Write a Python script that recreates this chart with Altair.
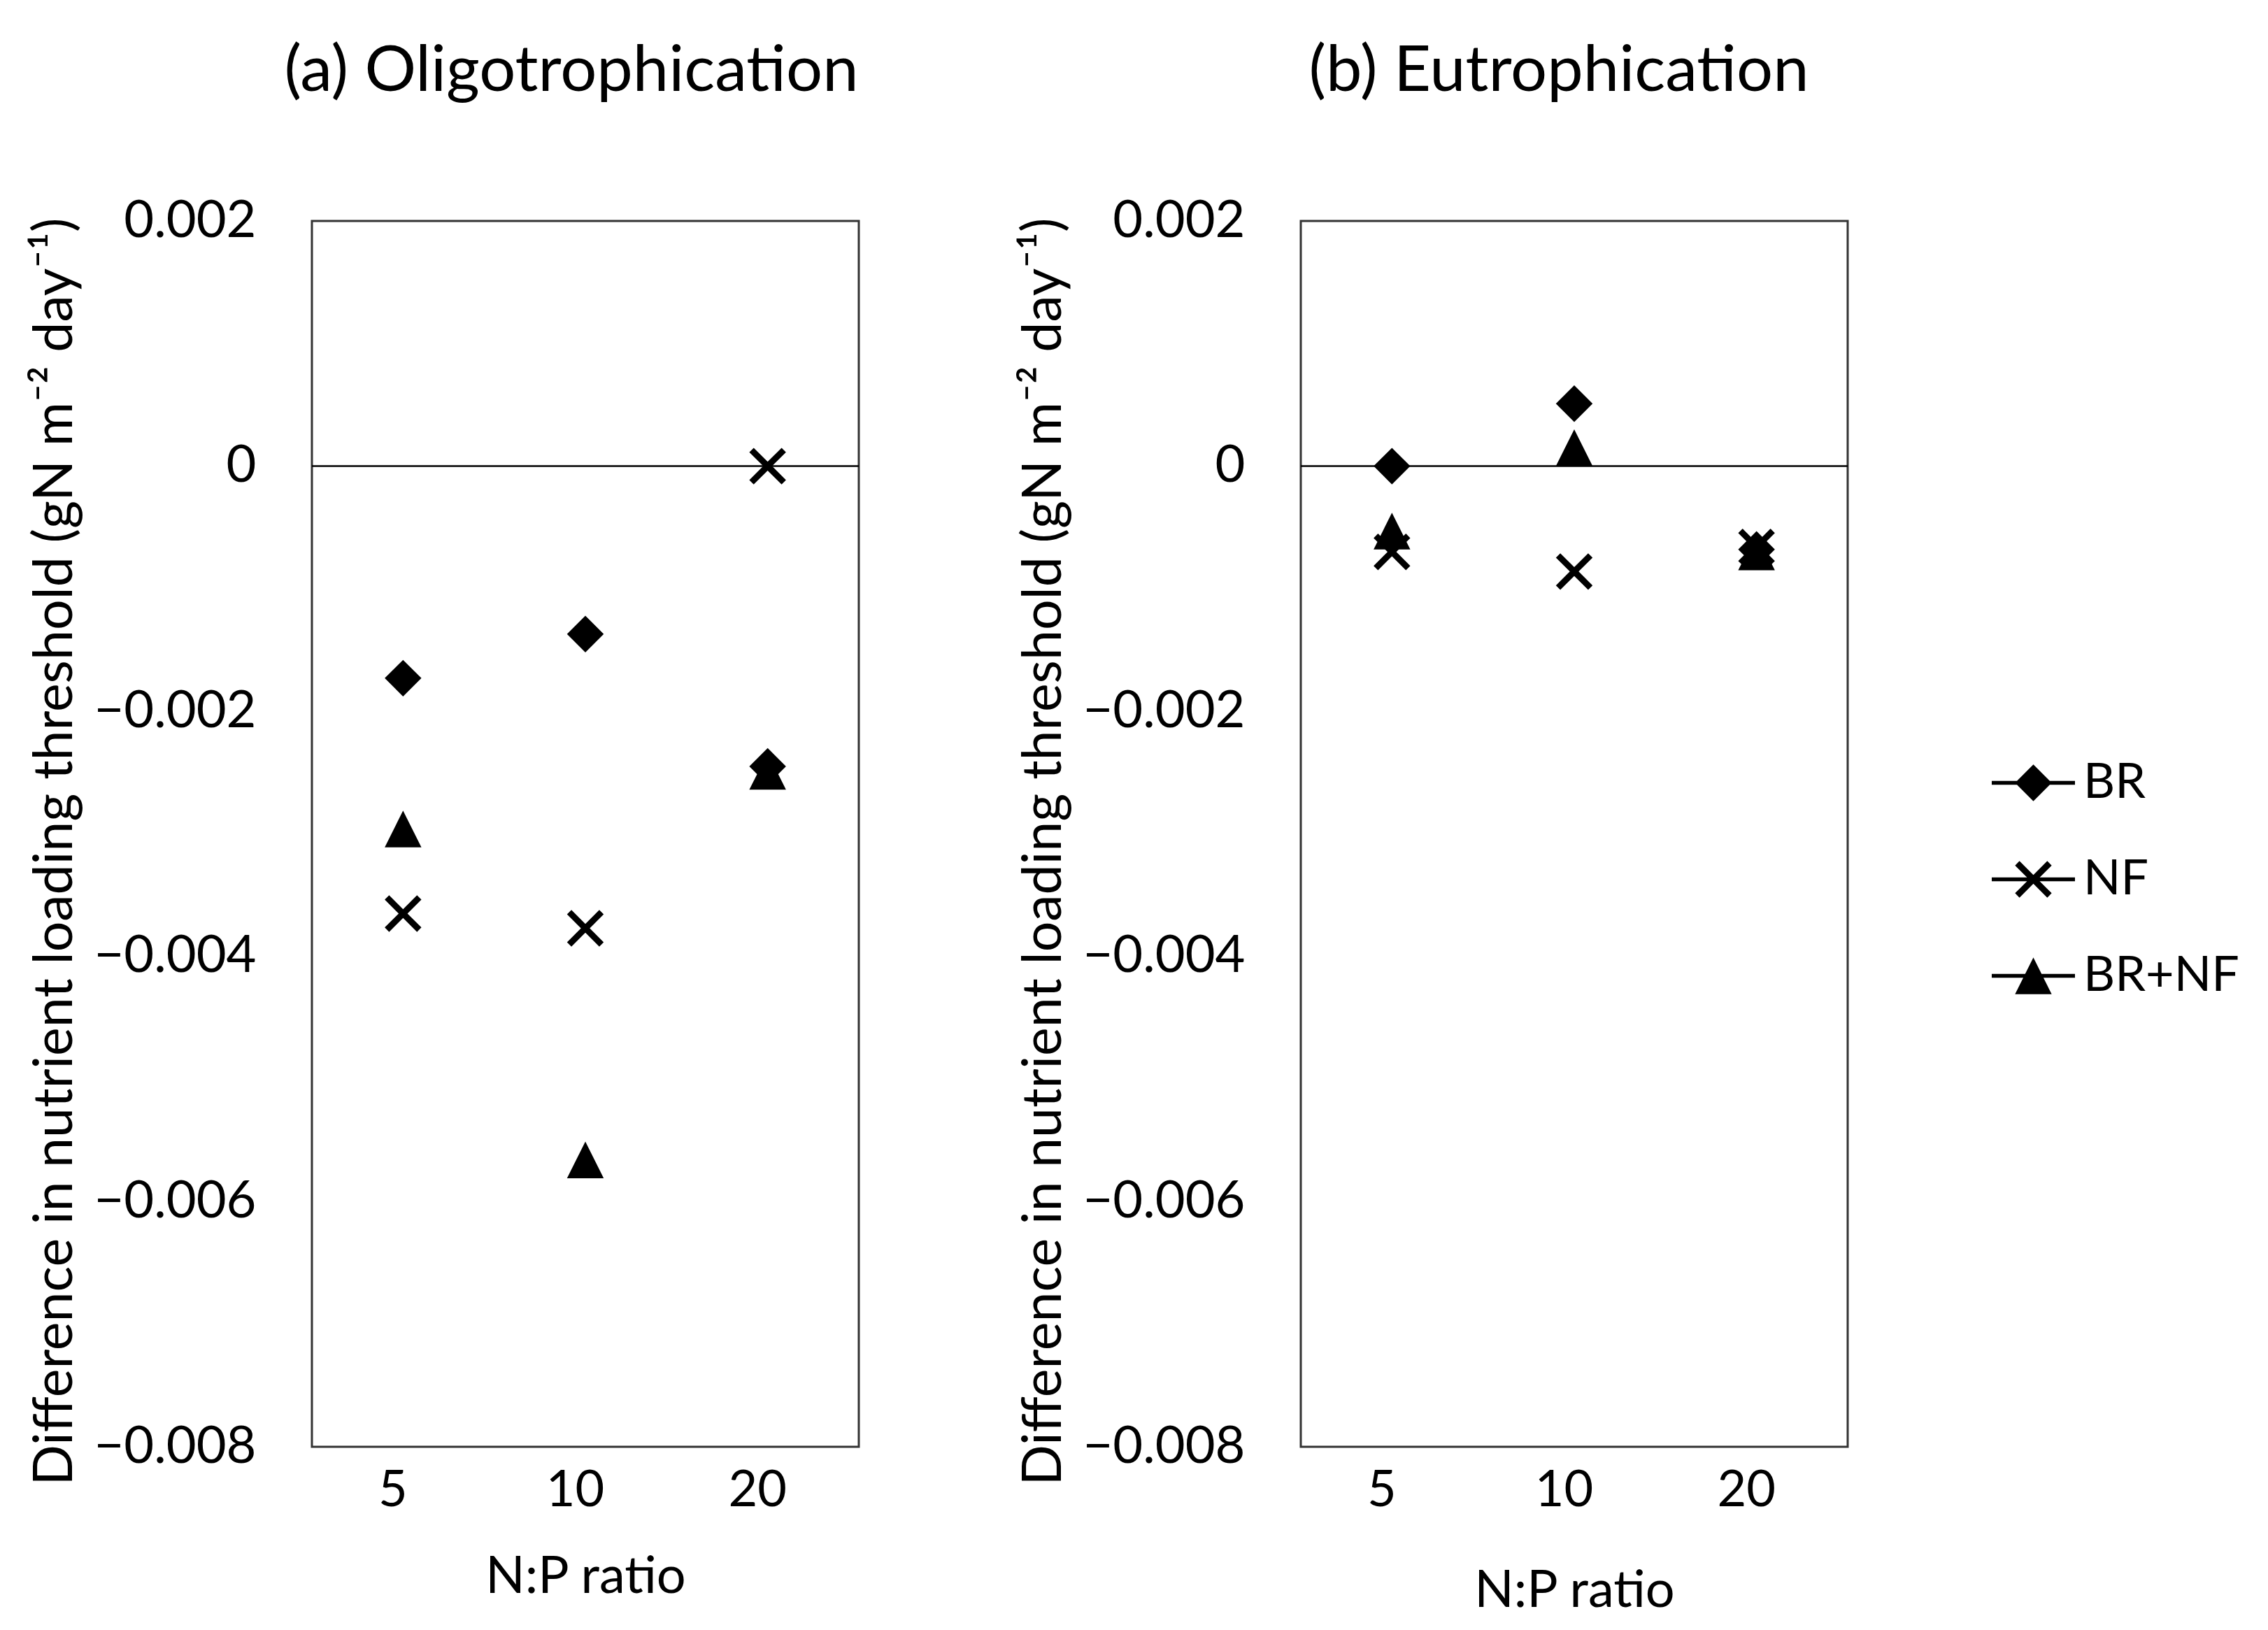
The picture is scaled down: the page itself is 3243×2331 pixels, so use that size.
import altair as alt
import pandas as pd

ratios = ["5", "10", "20"]
series = ["BR", "NF", "BR+NF"]

a_BR = [-0.00173, -0.00137, -0.00245]
a_NF = [-0.00365, -0.00377, 0.0]
a_BRNF = [-0.00296, -0.00566, -0.00249]

b_BR = [0.0, 0.00051, -0.00068]
b_NF = [-0.00070, -0.00086, -0.00066]
b_BRNF = [-0.00053, 0.00015, -0.00070]

y_ticks = [-0.008, -0.006, -0.004, -0.002, 0.0, 0.002]

FONT = "Lato"
W, H = 782, 1753

# marker shapes (unit box -1..1)
DIAMOND = "M0,-1L1,0L0,1L-1,0Z"
E = 0.24
XPTS = [(-1 + E, -1), (0, -E), (1 - E, -1), (1, -1 + E), (E, 0), (1, 1 - E),
        (1 - E, 1), (0, E), (-1 + E, 1), (-1, 1 - E), (-E, 0), (-1, -1 + E)]


def poly(pts, k=1.0):
    return "M" + "L".join(f"{x * k:.3f},{y * k:.3f}" for x, y in pts) + "Z"


XSHAPE = poly(XPTS)
TRI = "M0,-1L1,1L-1,1Z"

K = 0.44
LINE = "M-1,-0.045L1,-0.045L1,0.045L-1,0.045Z"
L_DIAMOND = LINE + poly([(0, -1), (1, 0), (0, 1), (-1, 0)], K)
L_X = LINE + poly(XPTS, K)
L_TRI = LINE + poly([(0, -1), (1, 1), (-1, 1)], K)


def make_df(br, nf, brnf):
    rows = []
    for i, (s, vals) in enumerate(zip(series, [br, nf, brnf])):
        for r, v in zip(ratios, vals):
            rows.append({"ratio": r, "value": v, "series": s, "legend_series": s, "series_order": i})
    return pd.DataFrame(rows)


label_expr = "datum.value == 0 ? '0' : replace(format(datum.value, '.3f'), '-', '\u2212')"


def panel(df, title, title_dx, xtitle_pad, show_legend):
    x = alt.X("ratio:N", sort=ratios,
              axis=alt.Axis(title="N:P ratio", labelAngle=0, labelFontSize=72, labelFont=FONT,
                            labelColor="black", labelPadding=27, labelOffset=-15, ticks=False,
                            domain=False, grid=False, titleFontSize=74, titleFont=FONT,
                            titleFontWeight="normal", titleColor="black",
                            titlePadding=xtitle_pad, labelLimit=500))
    y = alt.Y("value:Q", scale=alt.Scale(domain=[-0.008, 0.002], nice=False, zero=False),
              axis=alt.Axis(values=y_ticks, labelExpr=label_expr, labelFontSize=74,
                            labelFont=FONT, labelColor="black", labelPadding=80, ticks=False,
                            domain=False, grid=False, labelLimit=600,
                            title="Difference in nutrient loading threshold (gN m\u207b\u00b2 day\u207b\u00b9)",
                            titleFontSize=77, titleFont=FONT, titleFontWeight="normal",
                            titleColor="black", titleX=-328, titleY=H / 2 + 25,
                            titleLimit=3000))
    base = alt.Chart(df)
    zero = alt.Chart(pd.DataFrame({"z": [0.0]})).mark_rule(color="black", strokeWidth=2.5).encode(
        y=alt.Y("z:Q"))
    pts = base.mark_point(filled=True, opacity=1, size=2750, color="black", strokeWidth=0).encode(
        x=x, y=y,
        shape=alt.Shape("series:N", scale=alt.Scale(domain=series, range=[DIAMOND, XSHAPE, TRI]),
                        legend=None),
        order=alt.Order("series_order:Q"),
    )
    layers = [zero, pts]
    if show_legend:
        leg = base.mark_point(filled=True, opacity=0, size=10, color="black").encode(
            x=x, y=y,
            shape=alt.Shape("legend_series:N",
                            scale=alt.Scale(domain=series, range=[L_DIAMOND, L_X, L_TRI]),
                            legend=alt.Legend(title=None, orient="none", legendX=988, legendY=744,
                                              symbolSize=14161, symbolOpacity=1,
                                              symbolFillColor="black", symbolStrokeColor="black",
                                              symbolStrokeWidth=0, labelFontSize=70,
                                              labelFont=FONT, labelColor="black", labelOffset=12,
                                              rowPadding=43, labelLimit=500)))
        layers.append(leg)
    ch = alt.layer(*layers).properties(
        width=W, height=H,
        title=alt.TitleParams(title, fontSize=92, font=FONT, fontWeight="normal", color="black",
                              anchor="middle", frame="group", dx=title_dx, baseline="alphabetic",
                              offset=57))
    if show_legend:
        ch = ch.resolve_scale(shape="independent")
    return ch


pa = panel(make_df(a_BR, a_NF, a_BRNF), "(a) Oligotrophication", -20, 52, False)
pb = panel(make_df(b_BR, b_NF, b_BRNF), "(b) Eutrophication", -22, 72, True)

chart = alt.hconcat(pa, pb, spacing=221).resolve_scale(shape="independent").properties(
    padding={"left": 30, "top": 46, "right": 5, "bottom": 5},
    background="white",
).configure_view(stroke="#333333", strokeWidth=3)

chart.save("out.html", embed_options={"renderer": "svg", "actions": False})
